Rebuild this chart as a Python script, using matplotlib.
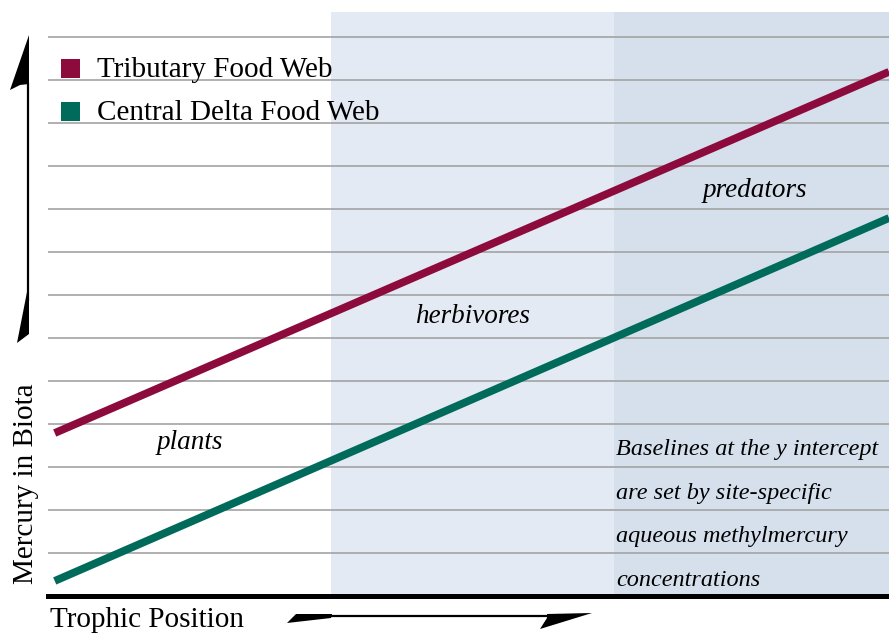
import matplotlib
matplotlib.use('Agg')
import matplotlib.pyplot as plt
import matplotlib.patches as mpatches

plt.rcParams['font.family'] = ['Liberation Serif', 'DejaVu Serif']

# data
trophic_x = [0.08, 10.0]
tributary_y = [3.79, 12.19]
delta_y = [0.35, 8.79]
zone_bounds = [0.0, 3.37, 6.73, 10.0]
zone_colors = ['white', '#e4eaf3', '#d5e0ec']
zone_labels = ['plants', 'herbivores', 'predators']
grid_levels = list(range(1, 14))
series_names = ['Tributary Food Web', 'Central Delta Food Web']
series_colors = ['#8c0a3c', '#006b5b']
note_lines = ['Baselines at the y intercept', 'are set by site-specific',
              'aqueous methylmercury', 'concentrations']

W, H = 889, 634
fig = plt.figure(figsize=(W / 100, H / 100), dpi=100)

# main plot area in pixel units of the reference
L, R, T, B = 48, 889, 12, 596
ax = fig.add_axes([L / W, (H - B) / H, (R - L) / W, (B - T) / H])
ax.set_xlim(0, 10)
ax.set_ylim(0, (B - T) / 43.0)
ax.axis('off')

for x0, x1, c in zip(zone_bounds[:-1], zone_bounds[1:], zone_colors):
    ax.axvspan(x0, x1, color=c, lw=0, zorder=0)

for g in grid_levels:
    ax.axhline(g, color='#a3a3a3', lw=1.2, zorder=1)

ax.plot(trophic_x, tributary_y, color=series_colors[0], lw=5.6,
        solid_capstyle='butt', zorder=3)
ax.plot(trophic_x, delta_y, color=series_colors[1], lw=5.6,
        solid_capstyle='butt', zorder=3)

ax.axhline(0, color='black', lw=3.6, zorder=4, clip_on=False)

# zone labels
zfs = 19.5
ax.text(1.69, 3.56, zone_labels[0], style='italic', fontsize=zfs,
        ha='center', va='center', zorder=5)
ax.text(5.05, 6.49, zone_labels[1], style='italic', fontsize=zfs,
        ha='center', va='center', zorder=5)
ax.text(8.41, 9.44, zone_labels[2], style='italic', fontsize=zfs,
        ha='center', va='center', zorder=5)

# overlay in pixel coordinates for legend, arrows, labels
ov = fig.add_axes([0, 0, 1, 1])
ov.set_xlim(0, W)
ov.set_ylim(H, 0)
ov.axis('off')
ov.patch.set_alpha(0)

# note text
for i, line in enumerate(note_lines):
    ov.text(616, 455 + 43.5 * i, line, style='italic', fontsize=17.5,
            ha='left', va='baseline')

# legend
for i, (name, c) in enumerate(zip(series_names, series_colors)):
    yc = 68 + 43 * i
    ov.add_patch(mpatches.Rectangle((61, yc - 9.5), 19, 19, facecolor=c,
                                    edgecolor='none'))
    ov.text(97, yc + 9, name, fontsize=21, ha='left', va='baseline')

# axis titles
ov.text(33, 484, 'Mercury in Biota', fontsize=21, rotation=90,
        ha='center', va='baseline', rotation_mode='anchor')
ov.text(50, 627, 'Trophic Position', fontsize=21, ha='left', va='baseline')

# vertical arrow
ov.plot([28, 28], [84, 300], color='black', lw=1.6)
ov.add_patch(mpatches.Polygon([(29, 35), (10, 90), (20, 85), (29, 84)],
                              closed=True, facecolor='black', edgecolor='none'))
ov.add_patch(mpatches.Polygon([(27, 292), (29, 292), (29, 334), (17, 343)],
                              closed=True, facecolor='black', edgecolor='none'))

# horizontal arrow
ov.plot([330, 548], [615.5, 615.5], color='black', lw=1.6)
ov.add_patch(mpatches.Polygon([(287, 623), (296, 614), (332, 614), (331, 618)],
                              closed=True, facecolor='black', edgecolor='none'))
ov.add_patch(mpatches.Polygon([(592, 613), (540, 629), (547, 618), (547, 614)],
                              closed=True, facecolor='black', edgecolor='none'))

fig.savefig('out.png', dpi=100, facecolor='white')
